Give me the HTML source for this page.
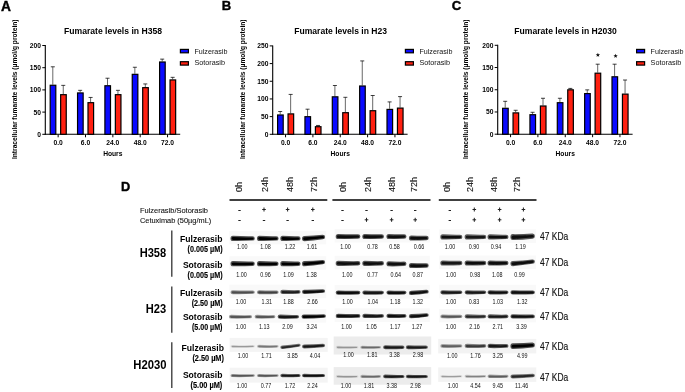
<!DOCTYPE html>
<html><head><meta charset="utf-8"><style>
html,body{margin:0;padding:0;background:#fff;}
body{width:685px;height:392px;overflow:hidden;font-family:"Liberation Sans", sans-serif;}
svg{display:block;will-change:transform;}
</style></head><body>
<svg width="685" height="392" viewBox="0 0 685 392" font-family='"Liberation Sans", sans-serif'>
<defs><filter id="bl" x="-10%" y="-100%" width="120%" height="300%"><feGaussianBlur stdDeviation="0.7"/></filter><filter id="bl2" x="-10%" y="-100%" width="120%" height="300%"><feGaussianBlur stdDeviation="0.5"/></filter></defs>
<rect width="685" height="392" fill="#fff"/>
<rect x="229.60" y="337.90" width="98.10" height="14.00" fill="#f4f4f4"/>
<rect x="229.60" y="367.70" width="98.10" height="14.90" fill="#f4f4f4"/>
<rect x="333.70" y="336.50" width="97.50" height="18.00" fill="#ececec"/>
<rect x="333.70" y="367.10" width="97.50" height="17.60" fill="#ececec"/>
<rect x="438.20" y="338.90" width="98.10" height="14.50" fill="#f3f3f3"/>
<rect x="438.20" y="367.40" width="98.10" height="14.50" fill="#f3f3f3"/>
<rect x="229.40" y="230.90" width="96.80" height="13.5" fill="#f9f9f9"/>
<rect x="334.60" y="229.00" width="95.20" height="13.5" fill="#f9f9f9"/>
<rect x="439.20" y="229.40" width="96.80" height="13.5" fill="#f9f9f9"/>
<rect x="229.40" y="256.20" width="96.80" height="13.5" fill="#f9f9f9"/>
<rect x="334.60" y="255.80" width="95.20" height="13.5" fill="#f9f9f9"/>
<rect x="439.20" y="255.50" width="96.80" height="13.5" fill="#f9f9f9"/>
<rect x="229.40" y="284.70" width="96.80" height="13.5" fill="#f9f9f9"/>
<rect x="334.60" y="285.10" width="95.20" height="13.5" fill="#f9f9f9"/>
<rect x="439.20" y="284.80" width="96.80" height="13.5" fill="#f9f9f9"/>
<rect x="229.40" y="309.20" width="96.80" height="13.5" fill="#f9f9f9"/>
<rect x="334.60" y="308.40" width="95.20" height="13.5" fill="#f9f9f9"/>
<rect x="439.20" y="308.90" width="96.80" height="13.5" fill="#f9f9f9"/>
<g filter="url(#bl)"><path d="M232.90,235.80 Q242.65,236.34 252.40,236.19 Q254.80,236.19 254.80,238.40 Q254.80,240.61 252.40,240.61 Q242.65,241.16 232.90,241.00 Q230.50,241.00 230.50,238.40 Q230.50,235.80 232.90,235.80Z" fill="#525252"/><path d="M259.40,235.80 Q267.80,236.34 276.20,236.19 Q278.60,236.19 278.60,238.40 Q278.60,240.61 276.20,240.61 Q267.80,241.16 259.40,241.00 Q257.00,241.00 257.00,238.40 Q257.00,235.80 259.40,235.80Z" fill="#525252"/><path d="M282.70,235.80 Q290.45,236.34 298.20,236.19 Q300.60,236.19 300.60,238.40 Q300.60,240.61 298.20,240.61 Q290.45,241.16 282.70,241.00 Q280.30,241.00 280.30,238.40 Q280.30,235.80 282.70,235.80Z" fill="#525252"/><path d="M304.40,235.99 Q313.55,235.74 322.70,234.78 Q325.10,234.78 325.10,237.00 Q325.10,239.22 322.70,239.22 Q313.55,240.56 304.40,241.21 Q302.00,241.21 302.00,238.60 Q302.00,235.99 304.40,235.99Z" fill="#505050"/><path d="M338.10,233.91 Q348.05,234.46 358.00,234.30 Q360.40,234.30 360.40,236.50 Q360.40,238.70 358.00,238.70 Q348.05,239.24 338.10,239.09 Q335.70,239.09 335.70,236.50 Q335.70,233.91 338.10,233.91Z" fill="#555555"/><path d="M364.70,233.91 Q373.15,234.46 381.60,234.30 Q384.00,234.30 384.00,236.50 Q384.00,238.70 381.60,238.70 Q373.15,239.24 364.70,239.09 Q362.30,239.09 362.30,236.50 Q362.30,233.91 364.70,233.91Z" fill="#555555"/><path d="M388.80,233.93 Q396.45,234.47 404.10,234.31 Q406.50,234.31 406.50,236.50 Q406.50,238.69 404.10,238.69 Q396.45,239.23 388.80,239.07 Q386.40,239.07 386.40,236.50 Q386.40,233.93 388.80,233.93Z" fill="#595959"/><path d="M411.30,235.41 Q418.80,235.96 426.30,235.80 Q428.70,235.80 428.70,238.00 Q428.70,240.20 426.30,240.20 Q418.80,240.74 411.30,240.59 Q408.90,240.59 408.90,238.00 Q408.90,235.41 411.30,235.41Z" fill="#555555"/><path d="M442.70,234.34 Q451.35,234.88 460.00,234.72 Q462.40,234.72 462.40,236.90 Q462.40,239.08 460.00,239.08 Q451.35,239.62 442.70,239.47 Q440.30,239.47 440.30,236.90 Q440.30,234.34 442.70,234.34Z" fill="#5b5b5b"/><path d="M467.00,234.35 Q475.45,234.89 483.90,234.73 Q486.30,234.73 486.30,236.90 Q486.30,239.07 483.90,239.07 Q475.45,239.61 467.00,239.45 Q464.60,239.45 464.60,236.90 Q464.60,234.35 467.00,234.35Z" fill="#5e5e5e"/><path d="M489.90,234.34 Q498.00,234.88 506.10,234.72 Q508.50,234.72 508.50,236.90 Q508.50,239.08 506.10,239.08 Q498.00,239.62 489.90,239.47 Q487.50,239.47 487.50,236.90 Q487.50,234.34 489.90,234.34Z" fill="#5b5b5b"/><path d="M512.80,234.12 Q522.65,234.20 532.50,233.57 Q534.90,233.57 534.90,236.10 Q534.90,238.63 532.50,238.63 Q522.65,239.70 512.80,240.08 Q510.40,240.08 510.40,237.10 Q510.40,234.12 512.80,234.12Z" fill="#555555"/><path d="M232.90,261.10 Q242.65,261.64 252.40,261.49 Q254.80,261.49 254.80,263.70 Q254.80,265.91 252.40,265.91 Q242.65,266.46 232.90,266.30 Q230.50,266.30 230.50,263.70 Q230.50,261.10 232.90,261.10Z" fill="#525252"/><path d="M259.40,261.09 Q267.80,261.64 276.20,261.48 Q278.60,261.48 278.60,263.70 Q278.60,265.92 276.20,265.92 Q267.80,266.46 259.40,266.31 Q257.00,266.31 257.00,263.70 Q257.00,261.09 259.40,261.09Z" fill="#505050"/><path d="M282.70,261.10 Q290.45,261.64 298.20,261.49 Q300.60,261.49 300.60,263.70 Q300.60,265.91 298.20,265.91 Q290.45,266.46 282.70,266.30 Q280.30,266.30 280.30,263.70 Q280.30,261.10 282.70,261.10Z" fill="#525252"/><path d="M304.40,261.09 Q313.55,260.84 322.70,259.88 Q325.10,259.88 325.10,262.10 Q325.10,264.32 322.70,264.32 Q313.55,265.66 304.40,266.31 Q302.00,266.31 302.00,263.70 Q302.00,261.09 304.40,261.09Z" fill="#505050"/><path d="M338.10,260.71 Q348.05,261.26 358.00,261.10 Q360.40,261.10 360.40,263.30 Q360.40,265.50 358.00,265.50 Q348.05,266.04 338.10,265.89 Q335.70,265.89 335.70,263.30 Q335.70,260.71 338.10,260.71Z" fill="#555555"/><path d="M364.70,260.71 Q373.15,261.26 381.60,261.10 Q384.00,261.10 384.00,263.30 Q384.00,265.50 381.60,265.50 Q373.15,266.04 364.70,265.89 Q362.30,265.89 362.30,263.30 Q362.30,260.71 364.70,260.71Z" fill="#555555"/><path d="M388.80,261.23 Q396.45,261.77 404.10,261.61 Q406.50,261.61 406.50,263.80 Q406.50,265.99 404.10,265.99 Q396.45,266.53 388.80,266.37 Q386.40,266.37 386.40,263.80 Q386.40,261.23 388.80,261.23Z" fill="#595959"/><path d="M411.30,262.91 Q418.80,263.46 426.30,263.30 Q428.70,263.30 428.70,265.50 Q428.70,267.70 426.30,267.70 Q418.80,268.24 411.30,268.09 Q408.90,268.09 408.90,265.50 Q408.90,262.91 411.30,262.91Z" fill="#555555"/><path d="M442.70,260.45 Q451.35,260.99 460.00,260.83 Q462.40,260.83 462.40,263.00 Q462.40,265.17 460.00,265.17 Q451.35,265.71 442.70,265.55 Q440.30,265.55 440.30,263.00 Q440.30,260.45 442.70,260.45Z" fill="#5e5e5e"/><path d="M467.00,260.44 Q475.45,260.98 483.90,260.82 Q486.30,260.82 486.30,263.00 Q486.30,265.18 483.90,265.18 Q475.45,265.72 467.00,265.56 Q464.60,265.56 464.60,263.00 Q464.60,260.44 467.00,260.44Z" fill="#5b5b5b"/><path d="M489.90,260.41 Q498.00,260.96 506.10,260.80 Q508.50,260.80 508.50,263.00 Q508.50,265.20 506.10,265.20 Q498.00,265.74 489.90,265.59 Q487.50,265.59 487.50,263.00 Q487.50,260.41 489.90,260.41Z" fill="#555555"/><path d="M512.80,261.04 Q522.65,260.58 532.50,259.42 Q534.90,259.42 534.90,261.60 Q534.90,263.78 532.50,263.78 Q522.65,265.32 512.80,266.17 Q510.40,266.17 510.40,263.60 Q510.40,261.04 512.80,261.04Z" fill="#5b5b5b"/><path d="M232.75,290.25 Q242.65,290.74 252.84,290.54 Q254.80,290.54 254.80,292.20 Q254.80,293.86 252.84,293.86 Q242.65,294.36 232.75,294.15 Q230.50,294.15 230.50,292.20 Q230.50,290.25 232.75,290.25Z" fill="#949494"/><path d="M259.29,290.21 Q267.80,290.71 276.61,290.51 Q278.60,290.51 278.60,292.20 Q278.60,293.89 276.61,293.89 Q267.80,294.39 259.29,294.19 Q257.00,294.19 257.00,292.20 Q257.00,290.21 259.29,290.21Z" fill="#898989"/><path d="M282.70,289.79 Q290.45,290.30 298.51,290.11 Q300.60,290.11 300.60,291.90 Q300.60,293.69 298.51,293.69 Q290.45,294.20 282.70,294.01 Q280.30,294.01 280.30,291.90 Q280.30,289.79 282.70,289.79Z" fill="#676767"/><path d="M304.40,289.63 Q313.55,289.74 322.95,289.15 Q325.10,289.15 325.10,291.00 Q325.10,292.85 322.95,292.85 Q313.55,293.76 304.40,293.97 Q302.00,293.97 302.00,291.80 Q302.00,289.63 304.40,289.63Z" fill="#555555"/><path d="M338.10,290.43 Q348.05,290.94 358.25,290.75 Q360.40,290.75 360.40,292.60 Q360.40,294.45 358.25,294.45 Q348.05,294.96 338.10,294.77 Q335.70,294.77 335.70,292.60 Q335.70,290.43 338.10,290.43Z" fill="#555555"/><path d="M364.70,290.46 Q373.15,290.97 381.88,290.78 Q384.00,290.78 384.00,292.60 Q384.00,294.42 381.88,294.42 Q373.15,294.93 364.70,294.74 Q362.30,294.74 362.30,292.60 Q362.30,290.46 364.70,290.46Z" fill="#5e5e5e"/><path d="M388.80,290.45 Q396.45,290.96 404.37,290.77 Q406.50,290.77 406.50,292.60 Q406.50,294.43 404.37,294.43 Q396.45,294.94 388.80,294.75 Q386.40,294.75 386.40,292.60 Q386.40,290.45 388.80,290.45Z" fill="#5b5b5b"/><path d="M411.30,290.73 Q418.80,290.64 426.55,289.85 Q428.70,289.85 428.70,291.70 Q428.70,293.55 426.55,293.55 Q418.80,294.66 411.30,295.07 Q408.90,295.07 408.90,292.90 Q408.90,290.73 411.30,290.73Z" fill="#555555"/><path d="M442.70,290.17 Q451.35,290.68 460.29,290.49 Q462.40,290.49 462.40,292.30 Q462.40,294.11 460.29,294.11 Q451.35,294.62 442.70,294.43 Q440.30,294.43 440.30,292.30 Q440.30,290.17 442.70,290.17Z" fill="#626262"/><path d="M467.00,290.17 Q475.45,290.68 484.19,290.49 Q486.30,290.49 486.30,292.30 Q486.30,294.11 484.19,294.11 Q475.45,294.62 467.00,294.43 Q464.60,294.43 464.60,292.30 Q464.60,290.17 467.00,290.17Z" fill="#626262"/><path d="M489.90,290.15 Q498.00,290.66 506.37,290.47 Q508.50,290.47 508.50,292.30 Q508.50,294.13 506.37,294.13 Q498.00,294.64 489.90,294.45 Q487.50,294.45 487.50,292.30 Q487.50,290.15 489.90,290.15Z" fill="#5b5b5b"/><path d="M512.80,290.13 Q522.65,290.64 532.75,290.45 Q534.90,290.45 534.90,292.30 Q534.90,294.15 532.75,294.15 Q522.65,294.66 512.80,294.47 Q510.40,294.47 510.40,292.30 Q510.40,290.13 512.80,290.13Z" fill="#555555"/><path d="M231.12,314.78 Q240.50,315.27 250.17,315.07 Q252.10,315.07 252.10,316.70 Q252.10,318.33 250.17,318.33 Q240.50,318.83 231.12,318.62 Q228.90,318.62 228.90,316.70 Q228.90,314.78 231.12,314.78Z" fill="#9d9d9d"/><path d="M256.82,314.78 Q265.00,315.27 273.47,315.07 Q275.40,315.07 275.40,316.70 Q275.40,318.33 273.47,318.33 Q265.00,318.83 256.82,318.62 Q254.60,318.62 254.60,316.70 Q254.60,314.78 256.82,314.78Z" fill="#9d9d9d"/><path d="M280.00,314.56 Q288.35,315.07 296.98,314.88 Q299.10,314.88 299.10,316.70 Q299.10,318.52 296.98,318.52 Q288.35,319.03 280.00,318.84 Q277.60,318.84 277.60,316.70 Q277.60,314.56 280.00,314.56Z" fill="#5e5e5e"/><path d="M303.90,314.41 Q313.70,314.62 323.74,314.14 Q325.90,314.14 325.90,316.00 Q325.90,317.86 323.74,317.86 Q313.70,318.68 303.90,318.79 Q301.50,318.79 301.50,316.60 Q301.50,314.41 303.90,314.41Z" fill="#505050"/><path d="M338.10,313.73 Q348.05,314.24 358.25,314.05 Q360.40,314.05 360.40,315.90 Q360.40,317.75 358.25,317.75 Q348.05,318.26 338.10,318.07 Q335.70,318.07 335.70,315.90 Q335.70,313.73 338.10,313.73Z" fill="#555555"/><path d="M364.70,313.76 Q373.15,314.27 381.88,314.08 Q384.00,314.08 384.00,315.90 Q384.00,317.72 381.88,317.72 Q373.15,318.23 364.70,318.04 Q362.30,318.04 362.30,315.90 Q362.30,313.76 364.70,313.76Z" fill="#5e5e5e"/><path d="M388.80,313.75 Q396.45,314.26 404.37,314.07 Q406.50,314.07 406.50,315.90 Q406.50,317.73 404.37,317.73 Q396.45,318.24 388.80,318.05 Q386.40,318.05 386.40,315.90 Q386.40,313.75 388.80,313.75Z" fill="#5b5b5b"/><path d="M411.30,314.03 Q418.80,313.94 426.55,313.15 Q428.70,313.15 428.70,315.00 Q428.70,316.85 426.55,316.85 Q418.80,317.96 411.30,318.37 Q408.90,318.37 408.90,316.20 Q408.90,314.03 411.30,314.03Z" fill="#555555"/><path d="M442.52,314.48 Q451.35,314.97 460.47,314.77 Q462.40,314.77 462.40,316.40 Q462.40,318.03 460.47,318.03 Q451.35,318.53 442.52,318.32 Q440.30,318.32 440.30,316.40 Q440.30,314.48 442.52,314.48Z" fill="#9d9d9d"/><path d="M466.98,314.32 Q475.45,314.83 484.23,314.63 Q486.30,314.63 486.30,316.40 Q486.30,318.17 484.23,318.17 Q475.45,318.67 466.98,318.48 Q464.60,318.48 464.60,316.40 Q464.60,314.32 466.98,314.32Z" fill="#707070"/><path d="M489.90,314.27 Q498.00,314.78 506.39,314.59 Q508.50,314.59 508.50,316.40 Q508.50,318.21 506.39,318.21 Q498.00,318.72 489.90,318.53 Q487.50,318.53 487.50,316.40 Q487.50,314.27 489.90,314.27Z" fill="#626262"/><path d="M512.80,314.24 Q522.65,314.75 532.76,314.56 Q534.90,314.56 534.90,316.40 Q534.90,318.24 532.76,318.24 Q522.65,318.75 512.80,318.56 Q510.40,318.56 510.40,316.40 Q510.40,314.24 512.80,314.24Z" fill="#595959"/><path d="M232.22,344.88 Q242.65,345.34 253.30,345.10 Q254.80,345.10 254.80,346.30 Q254.80,347.50 253.30,347.50 Q242.65,347.96 232.22,347.72 Q230.50,347.72 230.50,346.30 Q230.50,344.88 232.22,344.88Z" fill="#dbdbdb"/><path d="M258.81,344.79 Q267.80,345.25 277.01,345.01 Q278.60,345.01 278.60,346.30 Q278.60,347.59 277.01,347.59 Q267.80,348.05 258.81,347.81 Q257.00,347.81 257.00,346.30 Q257.00,344.79 258.81,344.79Z" fill="#bbbbbb"/><path d="M282.33,345.57 Q290.45,345.05 298.83,343.83 Q300.60,343.83 300.60,345.30 Q300.60,346.77 298.83,346.77 Q290.45,348.25 282.33,349.03 Q280.30,349.03 280.30,347.30 Q280.30,345.57 282.33,345.57Z" fill="#707070"/><path d="M304.33,344.47 Q313.55,344.47 323.07,343.77 Q325.10,343.77 325.10,345.50 Q325.10,347.23 323.07,347.23 Q313.55,348.23 304.33,348.53 Q302.00,348.53 302.00,346.50 Q302.00,344.47 304.33,344.47Z" fill="#646464"/><path d="M337.43,345.77 Q347.05,346.23 356.89,345.99 Q358.40,345.99 358.40,347.20 Q358.40,348.41 356.89,348.41 Q347.05,348.87 337.43,348.63 Q335.70,348.63 335.70,347.20 Q335.70,345.77 337.43,345.77Z" fill="#d8d8d8"/><path d="M362.15,345.65 Q370.70,346.12 379.48,345.88 Q381.10,345.88 381.10,347.20 Q381.10,348.52 379.48,348.52 Q370.70,348.98 362.15,348.75 Q360.30,348.75 360.30,347.20 Q360.30,345.65 362.15,345.65Z" fill="#afafaf"/><path d="M385.45,345.15 Q393.80,345.65 402.46,345.46 Q404.50,345.46 404.50,347.20 Q404.50,348.94 402.46,348.94 Q393.80,349.45 385.45,349.25 Q383.10,349.25 383.10,347.20 Q383.10,345.15 385.45,345.15Z" fill="#5e5e5e"/><path d="M408.05,345.25 Q416.85,345.74 425.94,345.54 Q427.90,345.54 427.90,347.20 Q427.90,348.86 425.94,348.86 Q416.85,349.36 408.05,349.15 Q405.80,349.15 405.80,347.20 Q405.80,345.25 408.05,345.25Z" fill="#626262"/><path d="M442.57,343.93 Q451.35,344.43 460.43,344.23 Q462.40,344.23 462.40,345.90 Q462.40,347.57 460.43,347.57 Q451.35,348.07 442.57,347.87 Q440.30,347.87 440.30,345.90 Q440.30,343.93 442.57,343.93Z" fill="#a6a6a6"/><path d="M467.00,343.80 Q475.45,344.31 484.21,344.11 Q486.30,344.11 486.30,345.90 Q486.30,347.69 484.21,347.69 Q475.45,348.19 467.00,348.00 Q464.60,348.00 464.60,345.90 Q464.60,343.80 467.00,343.80Z" fill="#828282"/><path d="M489.90,343.68 Q498.00,344.20 506.31,344.01 Q508.50,344.01 508.50,345.90 Q508.50,347.79 506.31,347.79 Q498.00,348.30 489.90,348.12 Q487.50,348.12 487.50,345.90 Q487.50,343.68 489.90,343.68Z" fill="#626262"/><path d="M512.80,343.16 Q522.65,343.23 532.50,342.60 Q534.90,342.60 534.90,345.10 Q534.90,347.60 532.50,347.60 Q522.65,348.67 512.80,349.04 Q510.40,349.04 510.40,346.10 Q510.40,343.16 512.80,343.16Z" fill="#4c4c4c"/><path d="M232.40,373.90 Q242.65,374.37 253.14,374.14 Q254.80,374.14 254.80,375.50 Q254.80,376.86 253.14,376.86 Q242.65,377.33 232.40,377.10 Q230.50,377.10 230.50,375.50 Q230.50,373.90 232.40,373.90Z" fill="#9d9d9d"/><path d="M258.90,373.90 Q267.80,374.37 276.94,374.14 Q278.60,374.14 278.60,375.50 Q278.60,376.86 276.94,376.86 Q267.80,377.33 258.90,377.10 Q257.00,377.10 257.00,375.50 Q257.00,373.90 258.90,373.90Z" fill="#9d9d9d"/><path d="M282.37,373.73 Q290.45,374.21 298.80,374.00 Q300.60,374.00 300.60,375.50 Q300.60,377.00 298.80,377.00 Q290.45,377.49 282.37,377.27 Q280.30,377.27 280.30,375.50 Q280.30,373.73 282.37,373.73Z" fill="#646464"/><path d="M304.10,373.70 Q313.55,374.19 323.27,373.97 Q325.10,373.97 325.10,375.50 Q325.10,377.03 323.27,377.03 Q313.55,377.51 304.10,377.30 Q302.00,377.30 302.00,375.50 Q302.00,373.70 304.10,373.70Z" fill="#5b5b5b"/><path d="M337.43,374.97 Q347.05,375.43 356.89,375.19 Q358.40,375.19 358.40,376.40 Q358.40,377.61 356.89,377.61 Q347.05,378.07 337.43,377.83 Q335.70,377.83 335.70,376.40 Q335.70,374.97 337.43,374.97Z" fill="#d8d8d8"/><path d="M362.15,374.85 Q370.70,375.32 379.48,375.08 Q381.10,375.08 381.10,376.40 Q381.10,377.72 379.48,377.72 Q370.70,378.18 362.15,377.95 Q360.30,377.95 360.30,376.40 Q360.30,374.85 362.15,374.85Z" fill="#afafaf"/><path d="M385.19,374.61 Q393.80,375.10 402.68,374.88 Q404.50,374.88 404.50,376.40 Q404.50,377.92 402.68,377.92 Q393.80,378.40 385.19,378.19 Q383.10,378.19 383.10,376.40 Q383.10,374.61 385.19,374.61Z" fill="#5e5e5e"/><path d="M407.87,374.63 Q416.85,375.11 426.09,374.89 Q427.90,374.89 427.90,376.40 Q427.90,377.91 426.09,377.91 Q416.85,378.39 407.87,378.17 Q405.80,378.17 405.80,376.40 Q405.80,374.63 407.87,374.63Z" fill="#626262"/><path d="M442.01,374.89 Q451.35,375.35 460.90,375.10 Q462.40,375.10 462.40,376.30 Q462.40,377.50 460.90,377.50 Q451.35,377.95 442.01,377.71 Q440.30,377.71 440.30,376.30 Q440.30,374.89 442.01,374.89Z" fill="#dfdfdf"/><path d="M466.38,374.82 Q475.45,375.28 484.74,375.04 Q486.30,375.04 486.30,376.30 Q486.30,377.56 484.74,377.56 Q475.45,378.02 466.38,377.78 Q464.60,377.78 464.60,376.30 Q464.60,374.82 466.38,374.82Z" fill="#c6c6c6"/><path d="M489.54,374.56 Q498.00,375.04 506.72,374.82 Q508.50,374.82 508.50,376.30 Q508.50,377.78 506.72,377.78 Q498.00,378.26 489.54,378.04 Q487.50,378.04 487.50,376.30 Q487.50,374.56 489.54,374.56Z" fill="#a2a2a2"/><path d="M512.78,374.42 Q522.65,374.43 532.83,373.73 Q534.90,373.73 534.90,375.50 Q534.90,377.27 532.83,377.27 Q522.65,378.27 512.78,378.58 Q510.40,378.58 510.40,376.50 Q510.40,374.42 512.78,374.42Z" fill="#707070"/></g>
<g filter="url(#bl2)"><path d="M233.33,237.12 Q242.65,237.60 252.23,237.38 Q253.70,237.38 253.70,238.55 Q253.70,239.72 252.23,239.72 Q242.65,240.20 233.33,239.98 Q231.60,239.98 231.60,238.55 Q231.60,237.12 233.33,237.12Z" fill="#060606"/><path d="M259.83,237.12 Q267.80,237.60 276.03,237.38 Q277.50,237.38 277.50,238.55 Q277.50,239.72 276.03,239.72 Q267.80,240.20 259.83,239.98 Q258.10,239.98 258.10,238.55 Q258.10,237.12 259.83,237.12Z" fill="#060606"/><path d="M283.13,237.12 Q290.45,237.60 298.03,237.38 Q299.50,237.38 299.50,238.55 Q299.50,239.72 298.03,239.72 Q290.45,240.20 283.13,239.98 Q281.40,239.98 281.40,238.55 Q281.40,237.12 283.13,237.12Z" fill="#060606"/><path d="M304.84,237.31 Q313.55,237.00 322.53,235.98 Q324.00,235.98 324.00,237.15 Q324.00,238.32 322.53,238.32 Q313.55,239.61 304.84,240.19 Q303.10,240.19 303.10,238.75 Q303.10,237.31 304.84,237.31Z" fill="#040404"/><path d="M338.52,235.23 Q348.05,235.71 357.84,235.49 Q359.30,235.49 359.30,236.65 Q359.30,237.81 357.84,237.81 Q348.05,238.29 338.52,238.07 Q336.80,238.07 336.80,236.65 Q336.80,235.23 338.52,235.23Z" fill="#0a0a0a"/><path d="M365.12,235.23 Q373.15,235.71 381.44,235.49 Q382.90,235.49 382.90,236.65 Q382.90,237.81 381.44,237.81 Q373.15,238.29 365.12,238.07 Q363.40,238.07 363.40,236.65 Q363.40,235.23 365.12,235.23Z" fill="#0a0a0a"/><path d="M389.21,235.24 Q396.45,235.71 403.94,235.49 Q405.40,235.49 405.40,236.65 Q405.40,237.81 403.94,237.81 Q396.45,238.29 389.21,238.06 Q387.50,238.06 387.50,236.65 Q387.50,235.24 389.21,235.24Z" fill="#0d0d0d"/><path d="M411.72,236.73 Q418.80,237.21 426.14,236.99 Q427.60,236.99 427.60,238.15 Q427.60,239.31 426.14,239.31 Q418.80,239.79 411.72,239.57 Q410.00,239.57 410.00,238.15 Q410.00,236.73 411.72,236.73Z" fill="#0a0a0a"/><path d="M443.11,235.64 Q451.35,236.12 459.85,235.90 Q461.30,235.90 461.30,237.05 Q461.30,238.20 459.85,238.20 Q451.35,238.68 443.11,238.46 Q441.40,238.46 441.40,237.05 Q441.40,235.64 443.11,235.64Z" fill="#0f0f0f"/><path d="M467.40,235.65 Q475.45,236.12 483.75,235.90 Q485.20,235.90 485.20,237.05 Q485.20,238.20 483.75,238.20 Q475.45,238.68 467.40,238.45 Q465.70,238.45 465.70,237.05 Q465.70,235.65 467.40,235.65Z" fill="#131313"/><path d="M490.31,235.64 Q498.00,236.12 505.95,235.90 Q507.40,235.90 507.40,237.05 Q507.40,238.20 505.95,238.20 Q498.00,238.68 490.31,238.46 Q488.60,238.46 488.60,237.05 Q488.60,235.64 490.31,235.64Z" fill="#0f0f0f"/><path d="M513.44,235.61 Q522.65,235.61 532.16,234.91 Q533.80,234.91 533.80,236.25 Q533.80,237.59 532.16,237.59 Q522.65,238.59 513.44,238.89 Q511.50,238.89 511.50,237.25 Q511.50,235.61 513.44,235.61Z" fill="#0a0a0a"/><path d="M233.33,262.42 Q242.65,262.90 252.23,262.68 Q253.70,262.68 253.70,263.85 Q253.70,265.02 252.23,265.02 Q242.65,265.50 233.33,265.28 Q231.60,265.28 231.60,263.85 Q231.60,262.42 233.33,262.42Z" fill="#060606"/><path d="M259.84,262.41 Q267.80,262.89 276.03,262.68 Q277.50,262.68 277.50,263.85 Q277.50,265.02 276.03,265.02 Q267.80,265.50 259.84,265.29 Q258.10,265.29 258.10,263.85 Q258.10,262.41 259.84,262.41Z" fill="#040404"/><path d="M283.13,262.42 Q290.45,262.90 298.03,262.68 Q299.50,262.68 299.50,263.85 Q299.50,265.02 298.03,265.02 Q290.45,265.50 283.13,265.28 Q281.40,265.28 281.40,263.85 Q281.40,262.42 283.13,262.42Z" fill="#060606"/><path d="M304.84,262.41 Q313.55,262.09 322.53,261.08 Q324.00,261.08 324.00,262.25 Q324.00,263.42 322.53,263.42 Q313.55,264.70 304.84,265.29 Q303.10,265.29 303.10,263.85 Q303.10,262.41 304.84,262.41Z" fill="#040404"/><path d="M338.52,262.03 Q348.05,262.51 357.84,262.29 Q359.30,262.29 359.30,263.45 Q359.30,264.61 357.84,264.61 Q348.05,265.09 338.52,264.87 Q336.80,264.87 336.80,263.45 Q336.80,262.03 338.52,262.03Z" fill="#0a0a0a"/><path d="M365.12,262.03 Q373.15,262.51 381.44,262.29 Q382.90,262.29 382.90,263.45 Q382.90,264.61 381.44,264.61 Q373.15,265.09 365.12,264.87 Q363.40,264.87 363.40,263.45 Q363.40,262.03 365.12,262.03Z" fill="#0a0a0a"/><path d="M389.21,262.54 Q396.45,263.01 403.94,262.79 Q405.40,262.79 405.40,263.95 Q405.40,265.11 403.94,265.11 Q396.45,265.59 389.21,265.36 Q387.50,265.36 387.50,263.95 Q387.50,262.54 389.21,262.54Z" fill="#0d0d0d"/><path d="M411.72,264.23 Q418.80,264.71 426.14,264.49 Q427.60,264.49 427.60,265.65 Q427.60,266.81 426.14,266.81 Q418.80,267.29 411.72,267.07 Q410.00,267.07 410.00,265.65 Q410.00,264.23 411.72,264.23Z" fill="#0a0a0a"/><path d="M443.10,261.75 Q451.35,262.23 459.85,262.00 Q461.30,262.00 461.30,263.15 Q461.30,264.30 459.85,264.30 Q451.35,264.77 443.10,264.55 Q441.40,264.55 441.40,263.15 Q441.40,261.75 443.10,261.75Z" fill="#131313"/><path d="M467.41,261.74 Q475.45,262.22 483.75,262.00 Q485.20,262.00 485.20,263.15 Q485.20,264.30 483.75,264.30 Q475.45,264.78 467.41,264.56 Q465.70,264.56 465.70,263.15 Q465.70,261.74 467.41,261.74Z" fill="#0f0f0f"/><path d="M490.32,261.73 Q498.00,262.21 505.94,261.99 Q507.40,261.99 507.40,263.15 Q507.40,264.31 505.94,264.31 Q498.00,264.79 490.32,264.57 Q488.60,264.57 488.60,263.15 Q488.60,261.73 490.32,261.73Z" fill="#0a0a0a"/><path d="M513.21,262.34 Q522.65,261.82 532.35,260.60 Q533.80,260.60 533.80,261.75 Q533.80,262.90 532.35,262.90 Q522.65,264.38 513.21,265.16 Q511.50,265.16 511.50,263.75 Q511.50,262.34 513.21,262.34Z" fill="#0f0f0f"/><path d="M232.97,291.28 Q242.65,291.72 252.52,291.47 Q253.70,291.47 253.70,292.35 Q253.70,293.23 252.52,293.23 Q242.65,293.68 232.97,293.42 Q231.60,293.42 231.60,292.35 Q231.60,291.28 232.97,291.28Z" fill="#4d4d4d"/><path d="M259.49,291.26 Q267.80,291.70 276.30,291.45 Q277.50,291.45 277.50,292.35 Q277.50,293.25 276.30,293.25 Q267.80,293.70 259.49,293.44 Q258.10,293.44 258.10,292.35 Q258.10,291.26 259.49,291.26Z" fill="#414141"/><path d="M282.86,290.89 Q290.45,291.34 298.25,291.10 Q299.50,291.10 299.50,292.05 Q299.50,293.00 298.25,293.00 Q290.45,293.46 282.86,293.21 Q281.40,293.21 281.40,292.05 Q281.40,290.89 282.86,290.89Z" fill="#1d1d1d"/><path d="M304.60,290.75 Q313.55,290.81 322.72,290.17 Q324.00,290.17 324.00,291.15 Q324.00,292.13 322.72,292.13 Q313.55,292.99 304.60,293.15 Q303.10,293.15 303.10,291.95 Q303.10,290.75 304.60,290.75Z" fill="#0a0a0a"/><path d="M338.30,291.55 Q348.05,292.01 358.02,291.77 Q359.30,291.77 359.30,292.75 Q359.30,293.73 358.02,293.73 Q348.05,294.19 338.30,293.95 Q336.80,293.95 336.80,292.75 Q336.80,291.55 338.30,291.55Z" fill="#0a0a0a"/><path d="M364.88,291.57 Q373.15,292.03 381.64,291.79 Q382.90,291.79 382.90,292.75 Q382.90,293.71 381.64,293.71 Q373.15,294.17 364.88,293.93 Q363.40,293.93 363.40,292.75 Q363.40,291.57 364.88,291.57Z" fill="#131313"/><path d="M388.99,291.56 Q396.45,292.02 404.13,291.78 Q405.40,291.78 405.40,292.75 Q405.40,293.72 404.13,293.72 Q396.45,294.18 388.99,293.94 Q387.50,293.94 387.50,292.75 Q387.50,291.56 388.99,291.56Z" fill="#0f0f0f"/><path d="M411.50,291.85 Q418.80,291.71 426.32,290.87 Q427.60,290.87 427.60,291.85 Q427.60,292.83 426.32,292.83 Q418.80,293.89 411.50,294.25 Q410.00,294.25 410.00,293.05 Q410.00,291.85 411.50,291.85Z" fill="#0a0a0a"/><path d="M442.87,291.28 Q451.35,291.74 460.04,291.49 Q461.30,291.49 461.30,292.45 Q461.30,293.41 460.04,293.41 Q451.35,293.86 442.87,293.62 Q441.40,293.62 441.40,292.45 Q441.40,291.28 442.87,291.28Z" fill="#171717"/><path d="M467.17,291.28 Q475.45,291.74 483.94,291.49 Q485.20,291.49 485.20,292.45 Q485.20,293.41 483.94,293.41 Q475.45,293.86 467.17,293.62 Q465.70,293.62 465.70,292.45 Q465.70,291.28 467.17,291.28Z" fill="#171717"/><path d="M490.09,291.26 Q498.00,291.72 506.13,291.48 Q507.40,291.48 507.40,292.45 Q507.40,293.42 506.13,293.42 Q498.00,293.88 490.09,293.64 Q488.60,293.64 488.60,292.45 Q488.60,291.26 490.09,291.26Z" fill="#0f0f0f"/><path d="M513.00,291.25 Q522.65,291.71 532.52,291.47 Q533.80,291.47 533.80,292.45 Q533.80,293.43 532.52,293.43 Q522.65,293.89 513.00,293.65 Q511.50,293.65 511.50,292.45 Q511.50,291.25 513.00,291.25Z" fill="#0a0a0a"/><path d="M231.36,315.79 Q240.50,316.24 249.84,315.99 Q251.00,315.99 251.00,316.85 Q251.00,317.71 249.84,317.71 Q240.50,318.16 231.36,317.91 Q230.00,317.91 230.00,316.85 Q230.00,315.79 231.36,315.79Z" fill="#565656"/><path d="M257.06,315.79 Q265.00,316.24 273.14,315.99 Q274.30,315.99 274.30,316.85 Q274.30,317.71 273.14,317.71 Q265.00,318.16 257.06,317.91 Q255.70,317.91 255.70,316.85 Q255.70,315.79 257.06,315.79Z" fill="#565656"/><path d="M280.18,315.67 Q288.35,316.13 296.74,315.89 Q298.00,315.89 298.00,316.85 Q298.00,317.81 296.74,317.81 Q288.35,318.27 280.18,318.03 Q278.70,318.03 278.70,316.85 Q278.70,315.67 280.18,315.67Z" fill="#131313"/><path d="M304.11,315.54 Q313.70,315.70 323.51,315.16 Q324.80,315.16 324.80,316.15 Q324.80,317.14 323.51,317.14 Q313.70,317.90 304.11,317.96 Q302.60,317.96 302.60,316.75 Q302.60,315.54 304.11,315.54Z" fill="#040404"/><path d="M338.30,314.85 Q348.05,315.31 358.02,315.07 Q359.30,315.07 359.30,316.05 Q359.30,317.03 358.02,317.03 Q348.05,317.49 338.30,317.25 Q336.80,317.25 336.80,316.05 Q336.80,314.85 338.30,314.85Z" fill="#0a0a0a"/><path d="M364.88,314.87 Q373.15,315.33 381.64,315.09 Q382.90,315.09 382.90,316.05 Q382.90,317.01 381.64,317.01 Q373.15,317.47 364.88,317.23 Q363.40,317.23 363.40,316.05 Q363.40,314.87 364.88,314.87Z" fill="#131313"/><path d="M388.99,314.86 Q396.45,315.32 404.13,315.08 Q405.40,315.08 405.40,316.05 Q405.40,317.02 404.13,317.02 Q396.45,317.48 388.99,317.24 Q387.50,317.24 387.50,316.05 Q387.50,314.86 388.99,314.86Z" fill="#0f0f0f"/><path d="M411.50,315.15 Q418.80,315.01 426.32,314.17 Q427.60,314.17 427.60,315.15 Q427.60,316.13 426.32,316.13 Q418.80,317.19 411.50,317.55 Q410.00,317.55 410.00,316.35 Q410.00,315.15 411.50,315.15Z" fill="#0a0a0a"/><path d="M442.76,315.49 Q451.35,315.94 460.14,315.69 Q461.30,315.69 461.30,316.55 Q461.30,317.41 460.14,317.41 Q451.35,317.86 442.76,317.61 Q441.40,317.61 441.40,316.55 Q441.40,315.49 442.76,315.49Z" fill="#565656"/><path d="M467.14,315.41 Q475.45,315.86 483.96,315.61 Q485.20,315.61 485.20,316.55 Q485.20,317.49 483.96,317.49 Q475.45,317.94 467.14,317.69 Q465.70,317.69 465.70,316.55 Q465.70,315.41 467.14,315.41Z" fill="#262626"/><path d="M490.07,315.38 Q498.00,315.84 506.14,315.59 Q507.40,315.59 507.40,316.55 Q507.40,317.51 506.14,317.51 Q498.00,317.96 490.07,317.72 Q488.60,317.72 488.60,316.55 Q488.60,315.38 490.07,315.38Z" fill="#171717"/><path d="M512.99,315.36 Q522.65,315.82 532.53,315.58 Q533.80,315.58 533.80,316.55 Q533.80,317.52 532.53,317.52 Q522.65,317.98 512.99,317.74 Q511.50,317.74 511.50,316.55 Q511.50,315.36 512.99,315.36Z" fill="#0d0d0d"/><path d="M232.68,345.67 Q242.65,346.09 252.76,345.81 Q253.70,345.81 253.70,346.45 Q253.70,347.09 252.76,347.09 Q242.65,347.51 232.68,347.23 Q231.60,347.23 231.60,346.45 Q231.60,345.67 232.68,345.67Z" fill="#999999"/><path d="M259.23,345.62 Q267.80,346.04 276.52,345.77 Q277.50,345.77 277.50,346.45 Q277.50,347.13 276.52,347.13 Q267.80,347.56 259.23,347.28 Q258.10,347.28 258.10,346.45 Q258.10,345.62 259.23,345.62Z" fill="#777777"/><path d="M282.65,346.50 Q290.45,345.93 298.42,344.67 Q299.50,344.67 299.50,345.45 Q299.50,346.23 298.42,346.23 Q290.45,347.67 282.65,348.40 Q281.40,348.40 281.40,347.45 Q281.40,346.50 282.65,346.50Z" fill="#262626"/><path d="M304.52,345.53 Q313.55,345.48 322.78,344.73 Q324.00,344.73 324.00,345.65 Q324.00,346.57 322.78,346.57 Q313.55,347.52 304.52,347.77 Q303.10,347.77 303.10,346.65 Q303.10,345.53 304.52,345.53Z" fill="#191919"/><path d="M337.89,346.56 Q347.05,346.99 356.36,346.71 Q357.30,346.71 357.30,347.35 Q357.30,347.99 356.36,347.99 Q347.05,348.41 337.89,348.14 Q336.80,348.14 336.80,347.35 Q336.80,346.56 337.89,346.56Z" fill="#959595"/><path d="M362.55,346.50 Q370.70,346.93 379.00,346.65 Q380.00,346.65 380.00,347.35 Q380.00,348.05 379.00,348.05 Q370.70,348.47 362.55,348.20 Q361.40,348.20 361.40,347.35 Q361.40,346.50 362.55,346.50Z" fill="#696969"/><path d="M385.63,346.22 Q393.80,346.67 402.18,346.43 Q403.40,346.43 403.40,347.35 Q403.40,348.27 402.18,348.27 Q393.80,348.73 385.63,348.48 Q384.20,348.48 384.20,347.35 Q384.20,346.22 385.63,346.22Z" fill="#131313"/><path d="M408.27,346.28 Q416.85,346.72 425.62,346.47 Q426.80,346.47 426.80,347.35 Q426.80,348.23 425.62,348.23 Q416.85,348.68 408.27,348.42 Q406.90,348.42 406.90,347.35 Q406.90,346.28 408.27,346.28Z" fill="#171717"/><path d="M442.78,344.97 Q451.35,345.42 460.11,345.16 Q461.30,345.16 461.30,346.05 Q461.30,346.94 460.11,346.94 Q451.35,347.38 442.78,347.13 Q441.40,347.13 441.40,346.05 Q441.40,344.97 442.78,344.97Z" fill="#606060"/><path d="M467.15,344.89 Q475.45,345.35 483.95,345.10 Q485.20,345.10 485.20,346.05 Q485.20,346.99 483.95,346.99 Q475.45,347.45 467.15,347.20 Q465.70,347.20 465.70,346.05 Q465.70,344.89 467.15,344.89Z" fill="#393939"/><path d="M490.12,344.83 Q498.00,345.29 506.10,345.05 Q507.40,345.05 507.40,346.05 Q507.40,347.05 506.10,347.05 Q498.00,347.51 490.12,347.27 Q488.60,347.27 488.60,346.05 Q488.60,344.83 490.12,344.83Z" fill="#171717"/><path d="M513.42,344.63 Q522.65,344.63 532.18,343.93 Q533.80,343.93 533.80,345.25 Q533.80,346.57 532.18,346.57 Q522.65,347.57 513.42,347.87 Q511.50,347.87 511.50,346.25 Q511.50,344.63 513.42,344.63Z" fill="#000000"/><path d="M232.78,374.77 Q242.65,375.20 252.68,374.93 Q253.70,374.93 253.70,375.65 Q253.70,376.37 252.68,376.37 Q242.65,376.80 232.78,376.53 Q231.60,376.53 231.60,375.65 Q231.60,374.77 232.78,374.77Z" fill="#565656"/><path d="M259.28,374.77 Q267.80,375.20 276.48,374.93 Q277.50,374.93 277.50,375.65 Q277.50,376.37 276.48,376.37 Q267.80,376.80 259.28,376.53 Q258.10,376.53 258.10,375.65 Q258.10,374.77 259.28,374.77Z" fill="#565656"/><path d="M282.67,374.68 Q290.45,375.12 298.40,374.85 Q299.50,374.85 299.50,375.65 Q299.50,376.45 298.40,376.45 Q290.45,376.88 282.67,376.62 Q281.40,376.62 281.40,375.65 Q281.40,374.68 282.67,374.68Z" fill="#191919"/><path d="M304.39,374.66 Q313.55,375.10 322.89,374.84 Q324.00,374.84 324.00,375.65 Q324.00,376.46 322.89,376.46 Q313.55,376.90 304.39,376.64 Q303.10,376.64 303.10,375.65 Q303.10,374.66 304.39,374.66Z" fill="#0f0f0f"/><path d="M337.89,375.76 Q347.05,376.19 356.36,375.91 Q357.30,375.91 357.30,376.55 Q357.30,377.19 356.36,377.19 Q347.05,377.61 337.89,377.34 Q336.80,377.34 336.80,376.55 Q336.80,375.76 337.89,375.76Z" fill="#959595"/><path d="M362.55,375.70 Q370.70,376.13 379.00,375.85 Q380.00,375.85 380.00,376.55 Q380.00,377.25 379.00,377.25 Q370.70,377.67 362.55,377.40 Q361.40,377.40 361.40,376.55 Q361.40,375.70 362.55,375.70Z" fill="#696969"/><path d="M385.48,375.57 Q393.80,376.01 402.30,375.75 Q403.40,375.75 403.40,376.55 Q403.40,377.35 402.30,377.35 Q393.80,377.79 385.48,377.53 Q384.20,377.53 384.20,376.55 Q384.20,375.57 385.48,375.57Z" fill="#131313"/><path d="M408.18,375.57 Q416.85,376.01 425.70,375.75 Q426.80,375.75 426.80,376.55 Q426.80,377.35 425.70,377.35 Q416.85,377.79 408.18,377.53 Q406.90,377.53 406.90,376.55 Q406.90,375.57 408.18,375.57Z" fill="#171717"/><path d="M442.47,375.68 Q451.35,376.10 460.37,375.82 Q461.30,375.82 461.30,376.45 Q461.30,377.08 460.37,377.08 Q451.35,377.50 442.47,377.22 Q441.40,377.22 441.40,376.45 Q441.40,375.68 442.47,375.68Z" fill="#9d9d9d"/><path d="M466.81,375.64 Q475.45,376.06 484.23,375.78 Q485.20,375.78 485.20,376.45 Q485.20,377.12 484.23,377.12 Q475.45,377.54 466.81,377.26 Q465.70,377.26 465.70,376.45 Q465.70,375.64 466.81,375.64Z" fill="#828282"/><path d="M489.86,375.49 Q498.00,375.93 506.32,375.67 Q507.40,375.67 507.40,376.45 Q507.40,377.23 506.32,377.23 Q498.00,377.67 489.86,377.41 Q488.60,377.41 488.60,376.45 Q488.60,375.49 489.86,375.49Z" fill="#5c5c5c"/><path d="M512.94,375.51 Q522.65,375.46 532.56,374.71 Q533.80,374.71 533.80,375.65 Q533.80,376.59 532.56,376.59 Q522.65,377.54 512.94,377.79 Q511.50,377.79 511.50,376.65 Q511.50,375.51 512.94,375.51Z" fill="#262626"/></g>
<text x="1.00" y="10.50" font-size="13.8" font-weight="bold" stroke="#000" stroke-width="0.4">A</text>
<text x="64.00" y="34.00" font-size="8.6" font-weight="bold" textLength="98.00" lengthAdjust="spacingAndGlyphs">Fumarate levels in H358</text>
<text x="17.40" y="159.00" font-size="6.7" font-weight="bold" textLength="139.50" lengthAdjust="spacingAndGlyphs" transform="rotate(-90 17.40 159.00)">Intracellular fumarate levels (µmol/g protein)</text>
<line x1="45.30" y1="45.00" x2="45.30" y2="134.80" stroke="#000" stroke-width="1.1"/>
<line x1="44.80" y1="134.30" x2="180.20" y2="134.30" stroke="#000" stroke-width="1.1"/>
<line x1="42.30" y1="134.30" x2="45.30" y2="134.30" stroke="#000" stroke-width="1.0"/>
<text x="41.00" y="136.70" font-size="6.7" font-weight="bold" text-anchor="end">0</text>
<line x1="42.30" y1="112.10" x2="45.30" y2="112.10" stroke="#000" stroke-width="1.0"/>
<text x="41.00" y="114.50" font-size="6.7" font-weight="bold" text-anchor="end">50</text>
<line x1="42.30" y1="89.90" x2="45.30" y2="89.90" stroke="#000" stroke-width="1.0"/>
<text x="41.00" y="92.30" font-size="6.7" font-weight="bold" text-anchor="end">100</text>
<line x1="42.30" y1="67.70" x2="45.30" y2="67.70" stroke="#000" stroke-width="1.0"/>
<text x="41.00" y="70.10" font-size="6.7" font-weight="bold" text-anchor="end">150</text>
<line x1="42.30" y1="45.50" x2="45.30" y2="45.50" stroke="#000" stroke-width="1.0"/>
<text x="41.00" y="47.90" font-size="6.7" font-weight="bold" text-anchor="end">200</text>
<line x1="58.15" y1="134.30" x2="58.15" y2="137.30" stroke="#000" stroke-width="1.0"/>
<text x="58.15" y="145.00" font-size="6.7" font-weight="bold" text-anchor="middle">0.0</text>
<line x1="52.80" y1="84.66" x2="52.80" y2="66.81" stroke="#000" stroke-width="0.6"/>
<line x1="50.80" y1="66.81" x2="54.80" y2="66.81" stroke="#000" stroke-width="0.75"/>
<rect x="50.20" y="85.26" width="5.60" height="49.04" fill="#0a0aff" stroke="#000" stroke-width="1.2"/>
<line x1="63.25" y1="94.07" x2="63.25" y2="85.37" stroke="#000" stroke-width="0.6"/>
<line x1="61.25" y1="85.37" x2="65.25" y2="85.37" stroke="#000" stroke-width="0.75"/>
<rect x="60.65" y="94.67" width="5.60" height="39.63" fill="#ff2010" stroke="#000" stroke-width="1.2"/>
<line x1="85.50" y1="134.30" x2="85.50" y2="137.30" stroke="#000" stroke-width="1.0"/>
<text x="85.50" y="145.00" font-size="6.7" font-weight="bold" text-anchor="middle">6.0</text>
<line x1="80.15" y1="92.34" x2="80.15" y2="90.34" stroke="#000" stroke-width="0.6"/>
<line x1="78.15" y1="90.34" x2="82.15" y2="90.34" stroke="#000" stroke-width="0.75"/>
<rect x="77.55" y="92.94" width="5.60" height="41.36" fill="#0a0aff" stroke="#000" stroke-width="1.2"/>
<line x1="90.60" y1="102.07" x2="90.60" y2="97.45" stroke="#000" stroke-width="0.6"/>
<line x1="88.60" y1="97.45" x2="92.60" y2="97.45" stroke="#000" stroke-width="0.75"/>
<rect x="88.00" y="102.67" width="5.60" height="31.63" fill="#ff2010" stroke="#000" stroke-width="1.2"/>
<line x1="112.85" y1="134.30" x2="112.85" y2="137.30" stroke="#000" stroke-width="1.0"/>
<text x="112.85" y="145.00" font-size="6.7" font-weight="bold" text-anchor="middle">24.0</text>
<line x1="107.50" y1="85.15" x2="107.50" y2="78.22" stroke="#000" stroke-width="0.6"/>
<line x1="105.50" y1="78.22" x2="109.50" y2="78.22" stroke="#000" stroke-width="0.75"/>
<rect x="104.90" y="85.75" width="5.60" height="48.55" fill="#0a0aff" stroke="#000" stroke-width="1.2"/>
<line x1="117.95" y1="94.07" x2="117.95" y2="90.34" stroke="#000" stroke-width="0.6"/>
<line x1="115.95" y1="90.34" x2="119.95" y2="90.34" stroke="#000" stroke-width="0.75"/>
<rect x="115.35" y="94.67" width="5.60" height="39.63" fill="#ff2010" stroke="#000" stroke-width="1.2"/>
<line x1="140.20" y1="134.30" x2="140.20" y2="137.30" stroke="#000" stroke-width="1.0"/>
<text x="140.20" y="145.00" font-size="6.7" font-weight="bold" text-anchor="middle">48.0</text>
<line x1="134.85" y1="73.74" x2="134.85" y2="67.26" stroke="#000" stroke-width="0.6"/>
<line x1="132.85" y1="67.26" x2="136.85" y2="67.26" stroke="#000" stroke-width="0.75"/>
<rect x="132.25" y="74.34" width="5.60" height="59.96" fill="#0a0aff" stroke="#000" stroke-width="1.2"/>
<line x1="145.30" y1="87.06" x2="145.30" y2="83.95" stroke="#000" stroke-width="0.6"/>
<line x1="143.30" y1="83.95" x2="147.30" y2="83.95" stroke="#000" stroke-width="0.75"/>
<rect x="142.70" y="87.66" width="5.60" height="46.64" fill="#ff2010" stroke="#000" stroke-width="1.2"/>
<line x1="167.55" y1="134.30" x2="167.55" y2="137.30" stroke="#000" stroke-width="1.0"/>
<text x="167.55" y="145.00" font-size="6.7" font-weight="bold" text-anchor="middle">72.0</text>
<line x1="162.20" y1="61.40" x2="162.20" y2="59.13" stroke="#000" stroke-width="0.6"/>
<line x1="160.20" y1="59.13" x2="164.20" y2="59.13" stroke="#000" stroke-width="0.75"/>
<rect x="159.60" y="62.00" width="5.60" height="72.30" fill="#0a0aff" stroke="#000" stroke-width="1.2"/>
<line x1="172.65" y1="79.33" x2="172.65" y2="77.33" stroke="#000" stroke-width="0.6"/>
<line x1="170.65" y1="77.33" x2="174.65" y2="77.33" stroke="#000" stroke-width="0.75"/>
<rect x="170.05" y="79.93" width="5.60" height="54.37" fill="#ff2010" stroke="#000" stroke-width="1.2"/>
<text x="112.80" y="156.20" font-size="6.7" font-weight="bold" text-anchor="middle">Hours</text>
<rect x="180.40" y="49.40" width="8.00" height="3.40" fill="#0a0aff" stroke="#000" stroke-width="1.2"/>
<rect x="180.40" y="61.70" width="8.00" height="3.40" fill="#ff2010" stroke="#000" stroke-width="1.2"/>
<text x="194.40" y="53.50" font-size="7.9" textLength="33.00" lengthAdjust="spacingAndGlyphs" fill="#111">Fulzerasib</text>
<text x="194.40" y="65.40" font-size="7.9" textLength="30.60" lengthAdjust="spacingAndGlyphs" fill="#111">Sotorasib</text>
<text x="221.70" y="10.40" font-size="13.1" font-weight="bold" stroke="#000" stroke-width="0.4">B</text>
<text x="294.30" y="34.00" font-size="8.6" font-weight="bold" textLength="92.70" lengthAdjust="spacingAndGlyphs">Fumarate levels in H23</text>
<text x="244.50" y="159.00" font-size="6.7" font-weight="bold" textLength="139.50" lengthAdjust="spacingAndGlyphs" transform="rotate(-90 244.50 159.00)">Intracellular fumarate levels (µmol/g protein)</text>
<line x1="272.70" y1="45.40" x2="272.70" y2="134.80" stroke="#000" stroke-width="1.1"/>
<line x1="272.20" y1="134.30" x2="407.60" y2="134.30" stroke="#000" stroke-width="1.1"/>
<line x1="269.70" y1="134.30" x2="272.70" y2="134.30" stroke="#000" stroke-width="1.0"/>
<text x="268.40" y="136.70" font-size="6.7" font-weight="bold" text-anchor="end">0</text>
<line x1="269.70" y1="116.62" x2="272.70" y2="116.62" stroke="#000" stroke-width="1.0"/>
<text x="268.40" y="119.02" font-size="6.7" font-weight="bold" text-anchor="end">50</text>
<line x1="269.70" y1="98.94" x2="272.70" y2="98.94" stroke="#000" stroke-width="1.0"/>
<text x="268.40" y="101.34" font-size="6.7" font-weight="bold" text-anchor="end">100</text>
<line x1="269.70" y1="81.26" x2="272.70" y2="81.26" stroke="#000" stroke-width="1.0"/>
<text x="268.40" y="83.66" font-size="6.7" font-weight="bold" text-anchor="end">150</text>
<line x1="269.70" y1="63.58" x2="272.70" y2="63.58" stroke="#000" stroke-width="1.0"/>
<text x="268.40" y="65.98" font-size="6.7" font-weight="bold" text-anchor="end">200</text>
<line x1="269.70" y1="45.90" x2="272.70" y2="45.90" stroke="#000" stroke-width="1.0"/>
<text x="268.40" y="48.30" font-size="6.7" font-weight="bold" text-anchor="end">250</text>
<line x1="285.55" y1="134.30" x2="285.55" y2="137.30" stroke="#000" stroke-width="1.0"/>
<text x="285.55" y="145.00" font-size="6.7" font-weight="bold" text-anchor="middle">0.0</text>
<line x1="280.20" y1="114.39" x2="280.20" y2="111.49" stroke="#000" stroke-width="0.6"/>
<line x1="278.20" y1="111.49" x2="282.20" y2="111.49" stroke="#000" stroke-width="0.75"/>
<rect x="277.60" y="114.99" width="5.60" height="19.31" fill="#0a0aff" stroke="#000" stroke-width="1.2"/>
<line x1="290.65" y1="113.30" x2="290.65" y2="94.41" stroke="#000" stroke-width="0.6"/>
<line x1="288.65" y1="94.41" x2="292.65" y2="94.41" stroke="#000" stroke-width="0.75"/>
<rect x="288.05" y="113.90" width="5.60" height="20.40" fill="#ff2010" stroke="#000" stroke-width="1.2"/>
<line x1="312.90" y1="134.30" x2="312.90" y2="137.30" stroke="#000" stroke-width="1.0"/>
<text x="312.90" y="145.00" font-size="6.7" font-weight="bold" text-anchor="middle">6.0</text>
<line x1="307.55" y1="116.09" x2="307.55" y2="109.19" stroke="#000" stroke-width="0.6"/>
<line x1="305.55" y1="109.19" x2="309.55" y2="109.19" stroke="#000" stroke-width="0.75"/>
<rect x="304.95" y="116.69" width="5.60" height="17.61" fill="#0a0aff" stroke="#000" stroke-width="1.2"/>
<line x1="318.00" y1="126.10" x2="318.00" y2="125.46" stroke="#000" stroke-width="0.6"/>
<line x1="316.00" y1="125.46" x2="320.00" y2="125.46" stroke="#000" stroke-width="0.75"/>
<rect x="315.40" y="126.70" width="5.60" height="7.60" fill="#ff2010" stroke="#000" stroke-width="1.2"/>
<line x1="340.25" y1="134.30" x2="340.25" y2="137.30" stroke="#000" stroke-width="1.0"/>
<text x="340.25" y="145.00" font-size="6.7" font-weight="bold" text-anchor="middle">24.0</text>
<line x1="334.90" y1="96.22" x2="334.90" y2="85.50" stroke="#000" stroke-width="0.6"/>
<line x1="332.90" y1="85.50" x2="336.90" y2="85.50" stroke="#000" stroke-width="0.75"/>
<rect x="332.30" y="96.82" width="5.60" height="37.48" fill="#0a0aff" stroke="#000" stroke-width="1.2"/>
<line x1="345.35" y1="112.09" x2="345.35" y2="97.31" stroke="#000" stroke-width="0.6"/>
<line x1="343.35" y1="97.31" x2="347.35" y2="97.31" stroke="#000" stroke-width="0.75"/>
<rect x="342.75" y="112.69" width="5.60" height="21.61" fill="#ff2010" stroke="#000" stroke-width="1.2"/>
<line x1="367.60" y1="134.30" x2="367.60" y2="137.30" stroke="#000" stroke-width="1.0"/>
<text x="367.60" y="145.00" font-size="6.7" font-weight="bold" text-anchor="middle">48.0</text>
<line x1="362.25" y1="85.40" x2="362.25" y2="60.93" stroke="#000" stroke-width="0.6"/>
<line x1="360.25" y1="60.93" x2="364.25" y2="60.93" stroke="#000" stroke-width="0.75"/>
<rect x="359.65" y="86.00" width="5.60" height="48.30" fill="#0a0aff" stroke="#000" stroke-width="1.2"/>
<line x1="372.70" y1="110.11" x2="372.70" y2="95.51" stroke="#000" stroke-width="0.6"/>
<line x1="370.70" y1="95.51" x2="374.70" y2="95.51" stroke="#000" stroke-width="0.75"/>
<rect x="370.10" y="110.71" width="5.60" height="23.59" fill="#ff2010" stroke="#000" stroke-width="1.2"/>
<line x1="394.95" y1="134.30" x2="394.95" y2="137.30" stroke="#000" stroke-width="1.0"/>
<text x="394.95" y="145.00" font-size="6.7" font-weight="bold" text-anchor="middle">72.0</text>
<line x1="389.60" y1="108.81" x2="389.60" y2="101.91" stroke="#000" stroke-width="0.6"/>
<line x1="387.60" y1="101.91" x2="391.60" y2="101.91" stroke="#000" stroke-width="0.75"/>
<rect x="387.00" y="109.41" width="5.60" height="24.89" fill="#0a0aff" stroke="#000" stroke-width="1.2"/>
<line x1="400.05" y1="107.50" x2="400.05" y2="96.61" stroke="#000" stroke-width="0.6"/>
<line x1="398.05" y1="96.61" x2="402.05" y2="96.61" stroke="#000" stroke-width="0.75"/>
<rect x="397.45" y="108.10" width="5.60" height="26.20" fill="#ff2010" stroke="#000" stroke-width="1.2"/>
<text x="340.20" y="156.20" font-size="6.7" font-weight="bold" text-anchor="middle">Hours</text>
<rect x="405.40" y="49.40" width="8.00" height="3.40" fill="#0a0aff" stroke="#000" stroke-width="1.2"/>
<rect x="405.40" y="61.70" width="8.00" height="3.40" fill="#ff2010" stroke="#000" stroke-width="1.2"/>
<text x="419.40" y="53.50" font-size="7.9" textLength="33.00" lengthAdjust="spacingAndGlyphs" fill="#111">Fulzerasib</text>
<text x="419.40" y="65.40" font-size="7.9" textLength="30.60" lengthAdjust="spacingAndGlyphs" fill="#111">Sotorasib</text>
<text x="451.80" y="10.40" font-size="13.1" font-weight="bold" stroke="#000" stroke-width="0.4">C</text>
<text x="514.30" y="34.00" font-size="8.6" font-weight="bold" textLength="102.60" lengthAdjust="spacingAndGlyphs">Fumarate levels in H2030</text>
<text x="468.40" y="159.00" font-size="6.7" font-weight="bold" textLength="139.50" lengthAdjust="spacingAndGlyphs" transform="rotate(-90 468.40 159.00)">Intracellular fumarate levels (µmol/g protein)</text>
<line x1="497.70" y1="44.80" x2="497.70" y2="134.70" stroke="#000" stroke-width="1.1"/>
<line x1="497.20" y1="134.20" x2="632.60" y2="134.20" stroke="#000" stroke-width="1.1"/>
<line x1="494.70" y1="134.20" x2="497.70" y2="134.20" stroke="#000" stroke-width="1.0"/>
<text x="493.40" y="136.60" font-size="6.7" font-weight="bold" text-anchor="end">0</text>
<line x1="494.70" y1="111.97" x2="497.70" y2="111.97" stroke="#000" stroke-width="1.0"/>
<text x="493.40" y="114.38" font-size="6.7" font-weight="bold" text-anchor="end">50</text>
<line x1="494.70" y1="89.75" x2="497.70" y2="89.75" stroke="#000" stroke-width="1.0"/>
<text x="493.40" y="92.15" font-size="6.7" font-weight="bold" text-anchor="end">100</text>
<line x1="494.70" y1="67.52" x2="497.70" y2="67.52" stroke="#000" stroke-width="1.0"/>
<text x="493.40" y="69.92" font-size="6.7" font-weight="bold" text-anchor="end">150</text>
<line x1="494.70" y1="45.30" x2="497.70" y2="45.30" stroke="#000" stroke-width="1.0"/>
<text x="493.40" y="47.70" font-size="6.7" font-weight="bold" text-anchor="end">200</text>
<line x1="510.55" y1="134.20" x2="510.55" y2="137.20" stroke="#000" stroke-width="1.0"/>
<text x="510.55" y="145.00" font-size="6.7" font-weight="bold" text-anchor="middle">0.0</text>
<line x1="505.20" y1="107.71" x2="505.20" y2="101.31" stroke="#000" stroke-width="0.6"/>
<line x1="503.20" y1="101.31" x2="507.20" y2="101.31" stroke="#000" stroke-width="0.75"/>
<rect x="502.60" y="108.31" width="5.60" height="25.89" fill="#0a0aff" stroke="#000" stroke-width="1.2"/>
<line x1="515.65" y1="112.29" x2="515.65" y2="110.29" stroke="#000" stroke-width="0.6"/>
<line x1="513.65" y1="110.29" x2="517.65" y2="110.29" stroke="#000" stroke-width="0.75"/>
<rect x="513.05" y="112.89" width="5.60" height="21.31" fill="#ff2010" stroke="#000" stroke-width="1.2"/>
<line x1="537.90" y1="134.20" x2="537.90" y2="137.20" stroke="#000" stroke-width="1.0"/>
<text x="537.90" y="145.00" font-size="6.7" font-weight="bold" text-anchor="middle">6.0</text>
<line x1="532.55" y1="114.11" x2="532.55" y2="112.29" stroke="#000" stroke-width="0.6"/>
<line x1="530.55" y1="112.29" x2="534.55" y2="112.29" stroke="#000" stroke-width="0.75"/>
<rect x="529.95" y="114.71" width="5.60" height="19.49" fill="#0a0aff" stroke="#000" stroke-width="1.2"/>
<line x1="543.00" y1="105.40" x2="543.00" y2="98.28" stroke="#000" stroke-width="0.6"/>
<line x1="541.00" y1="98.28" x2="545.00" y2="98.28" stroke="#000" stroke-width="0.75"/>
<rect x="540.40" y="106.00" width="5.60" height="28.20" fill="#ff2010" stroke="#000" stroke-width="1.2"/>
<line x1="565.25" y1="134.20" x2="565.25" y2="137.20" stroke="#000" stroke-width="1.0"/>
<text x="565.25" y="145.00" font-size="6.7" font-weight="bold" text-anchor="middle">24.0</text>
<line x1="559.90" y1="102.11" x2="559.90" y2="98.28" stroke="#000" stroke-width="0.6"/>
<line x1="557.90" y1="98.28" x2="561.90" y2="98.28" stroke="#000" stroke-width="0.75"/>
<rect x="557.30" y="102.71" width="5.60" height="31.49" fill="#0a0aff" stroke="#000" stroke-width="1.2"/>
<line x1="570.35" y1="89.22" x2="570.35" y2="88.42" stroke="#000" stroke-width="0.6"/>
<line x1="568.35" y1="88.42" x2="572.35" y2="88.42" stroke="#000" stroke-width="0.75"/>
<rect x="567.75" y="89.82" width="5.60" height="44.38" fill="#ff2010" stroke="#000" stroke-width="1.2"/>
<line x1="592.60" y1="134.20" x2="592.60" y2="137.20" stroke="#000" stroke-width="1.0"/>
<text x="592.60" y="145.00" font-size="6.7" font-weight="bold" text-anchor="middle">48.0</text>
<line x1="587.25" y1="92.99" x2="587.25" y2="89.88" stroke="#000" stroke-width="0.6"/>
<line x1="585.25" y1="89.88" x2="589.25" y2="89.88" stroke="#000" stroke-width="0.75"/>
<rect x="584.65" y="93.59" width="5.60" height="40.61" fill="#0a0aff" stroke="#000" stroke-width="1.2"/>
<line x1="597.70" y1="72.59" x2="597.70" y2="64.19" stroke="#000" stroke-width="0.6"/>
<line x1="595.70" y1="64.19" x2="599.70" y2="64.19" stroke="#000" stroke-width="0.75"/>
<rect x="595.10" y="73.19" width="5.60" height="61.01" fill="#ff2010" stroke="#000" stroke-width="1.2"/>
<line x1="619.95" y1="134.20" x2="619.95" y2="137.20" stroke="#000" stroke-width="1.0"/>
<text x="619.95" y="145.00" font-size="6.7" font-weight="bold" text-anchor="middle">72.0</text>
<line x1="614.60" y1="76.19" x2="614.60" y2="64.19" stroke="#000" stroke-width="0.6"/>
<line x1="612.60" y1="64.19" x2="616.60" y2="64.19" stroke="#000" stroke-width="0.75"/>
<rect x="612.00" y="76.79" width="5.60" height="57.41" fill="#0a0aff" stroke="#000" stroke-width="1.2"/>
<line x1="625.05" y1="93.53" x2="625.05" y2="80.02" stroke="#000" stroke-width="0.6"/>
<line x1="623.05" y1="80.02" x2="627.05" y2="80.02" stroke="#000" stroke-width="0.75"/>
<rect x="622.45" y="94.13" width="5.60" height="40.07" fill="#ff2010" stroke="#000" stroke-width="1.2"/>
<polygon points="597.90,52.70 598.49,54.19 600.09,54.29 598.85,55.31 599.25,56.86 597.90,56.00 596.55,56.86 596.95,55.31 595.71,54.29 597.31,54.19" fill="#111"/>
<polygon points="615.60,53.70 616.19,55.19 617.79,55.29 616.55,56.31 616.95,57.86 615.60,57.00 614.25,57.86 614.65,56.31 613.41,55.29 615.01,55.19" fill="#111"/>
<text x="565.20" y="156.20" font-size="6.7" font-weight="bold" text-anchor="middle">Hours</text>
<rect x="636.60" y="49.40" width="8.00" height="3.40" fill="#0a0aff" stroke="#000" stroke-width="1.2"/>
<rect x="636.60" y="61.70" width="8.00" height="3.40" fill="#ff2010" stroke="#000" stroke-width="1.2"/>
<text x="650.60" y="53.50" font-size="7.9" textLength="33.00" lengthAdjust="spacingAndGlyphs" fill="#111">Fulzerasib</text>
<text x="650.60" y="65.40" font-size="7.9" textLength="30.60" lengthAdjust="spacingAndGlyphs" fill="#111">Sotorasib</text>
<text x="121.10" y="190.50" font-size="12.8" font-weight="bold" stroke="#000" stroke-width="0.4">D</text>
<line x1="229.50" y1="200.00" x2="327.30" y2="200.00" stroke="#000" stroke-width="1.3"/>
<line x1="332.40" y1="200.00" x2="430.50" y2="200.00" stroke="#000" stroke-width="1.3"/>
<line x1="438.80" y1="200.00" x2="536.50" y2="200.00" stroke="#000" stroke-width="1.3"/>
<text x="242.10" y="192.00" font-size="8.6" textLength="10.03" lengthAdjust="spacingAndGlyphs" transform="rotate(-90 242.10 192.00)" fill="#111" stroke="#111" stroke-width="0.1">0h</text>
<rect x="238.30" y="210.00" width="2.40" height="1.00" fill="#222"/>
<rect x="238.30" y="220.00" width="2.40" height="1.00" fill="#222"/>
<text x="267.80" y="192.00" font-size="8.6" textLength="15.04" lengthAdjust="spacingAndGlyphs" transform="rotate(-90 267.80 192.00)" fill="#111" stroke="#111" stroke-width="0.1">24h</text>
<rect x="262.20" y="209.00" width="3.60" height="1.00" fill="#222"/>
<rect x="263.50" y="207.50" width="1.00" height="4.00" fill="#222"/>
<rect x="262.80" y="220.00" width="2.40" height="1.00" fill="#222"/>
<text x="293.00" y="192.00" font-size="8.6" textLength="15.04" lengthAdjust="spacingAndGlyphs" transform="rotate(-90 293.00 192.00)" fill="#111" stroke="#111" stroke-width="0.1">48h</text>
<rect x="285.80" y="209.00" width="3.60" height="1.00" fill="#222"/>
<rect x="287.10" y="207.50" width="1.00" height="4.00" fill="#222"/>
<rect x="286.40" y="220.00" width="2.40" height="1.00" fill="#222"/>
<text x="317.10" y="192.00" font-size="8.6" textLength="15.04" lengthAdjust="spacingAndGlyphs" transform="rotate(-90 317.10 192.00)" fill="#111" stroke="#111" stroke-width="0.1">72h</text>
<rect x="311.00" y="209.00" width="3.60" height="1.00" fill="#222"/>
<rect x="312.30" y="207.50" width="1.00" height="4.00" fill="#222"/>
<rect x="311.60" y="220.00" width="2.40" height="1.00" fill="#222"/>
<text x="346.00" y="192.00" font-size="8.6" textLength="10.03" lengthAdjust="spacingAndGlyphs" transform="rotate(-90 346.00 192.00)" fill="#111" stroke="#111" stroke-width="0.1">0h</text>
<rect x="341.30" y="210.00" width="2.40" height="1.00" fill="#222"/>
<rect x="341.30" y="220.00" width="2.40" height="1.00" fill="#222"/>
<text x="370.90" y="192.00" font-size="8.6" textLength="15.04" lengthAdjust="spacingAndGlyphs" transform="rotate(-90 370.90 192.00)" fill="#111" stroke="#111" stroke-width="0.1">24h</text>
<rect x="365.30" y="210.00" width="2.40" height="1.00" fill="#222"/>
<rect x="364.70" y="219.30" width="3.60" height="1.00" fill="#222"/>
<rect x="366.00" y="217.80" width="1.00" height="4.00" fill="#222"/>
<text x="394.60" y="192.00" font-size="8.6" textLength="15.04" lengthAdjust="spacingAndGlyphs" transform="rotate(-90 394.60 192.00)" fill="#111" stroke="#111" stroke-width="0.1">48h</text>
<rect x="390.40" y="210.00" width="2.40" height="1.00" fill="#222"/>
<rect x="389.80" y="219.30" width="3.60" height="1.00" fill="#222"/>
<rect x="391.10" y="217.80" width="1.00" height="4.00" fill="#222"/>
<text x="417.30" y="192.00" font-size="8.6" textLength="15.04" lengthAdjust="spacingAndGlyphs" transform="rotate(-90 417.30 192.00)" fill="#111" stroke="#111" stroke-width="0.1">72h</text>
<rect x="414.00" y="210.00" width="2.40" height="1.00" fill="#222"/>
<rect x="413.40" y="219.30" width="3.60" height="1.00" fill="#222"/>
<rect x="414.70" y="217.80" width="1.00" height="4.00" fill="#222"/>
<text x="449.90" y="192.00" font-size="8.6" textLength="10.03" lengthAdjust="spacingAndGlyphs" transform="rotate(-90 449.90 192.00)" fill="#111" stroke="#111" stroke-width="0.1">0h</text>
<rect x="448.60" y="210.00" width="2.40" height="1.00" fill="#222"/>
<rect x="448.60" y="220.00" width="2.40" height="1.00" fill="#222"/>
<text x="473.00" y="192.00" font-size="8.6" textLength="15.04" lengthAdjust="spacingAndGlyphs" transform="rotate(-90 473.00 192.00)" fill="#111" stroke="#111" stroke-width="0.1">24h</text>
<rect x="472.50" y="209.00" width="3.60" height="1.00" fill="#222"/>
<rect x="473.80" y="207.50" width="1.00" height="4.00" fill="#222"/>
<rect x="472.50" y="219.30" width="3.60" height="1.00" fill="#222"/>
<rect x="473.80" y="217.80" width="1.00" height="4.00" fill="#222"/>
<text x="496.90" y="192.00" font-size="8.6" textLength="15.04" lengthAdjust="spacingAndGlyphs" transform="rotate(-90 496.90 192.00)" fill="#111" stroke="#111" stroke-width="0.1">48h</text>
<rect x="497.80" y="209.00" width="3.60" height="1.00" fill="#222"/>
<rect x="499.10" y="207.50" width="1.00" height="4.00" fill="#222"/>
<rect x="497.80" y="219.30" width="3.60" height="1.00" fill="#222"/>
<rect x="499.10" y="217.80" width="1.00" height="4.00" fill="#222"/>
<text x="520.00" y="192.00" font-size="8.6" textLength="15.04" lengthAdjust="spacingAndGlyphs" transform="rotate(-90 520.00 192.00)" fill="#111" stroke="#111" stroke-width="0.1">72h</text>
<rect x="521.60" y="209.00" width="3.60" height="1.00" fill="#222"/>
<rect x="522.90" y="207.50" width="1.00" height="4.00" fill="#222"/>
<rect x="521.60" y="219.30" width="3.60" height="1.00" fill="#222"/>
<rect x="522.90" y="217.80" width="1.00" height="4.00" fill="#222"/>
<text x="140.00" y="212.80" font-size="7.9" textLength="68.00" lengthAdjust="spacingAndGlyphs" fill="#111" stroke="#111" stroke-width="0.1">Fulzerasib/Sotorasib</text>
<text x="140.00" y="222.80" font-size="7.9" textLength="71.20" lengthAdjust="spacingAndGlyphs" fill="#111" stroke="#111" stroke-width="0.1">Cetuximab (50µg/mL)</text>
<text x="166.20" y="257.10" font-size="12.5" font-weight="bold" text-anchor="end" textLength="26.50" lengthAdjust="spacingAndGlyphs">H358</text>
<text x="166.20" y="312.90" font-size="12.5" font-weight="bold" text-anchor="end" textLength="20.40" lengthAdjust="spacingAndGlyphs">H23</text>
<text x="166.50" y="369.30" font-size="12.5" font-weight="bold" text-anchor="end" textLength="33.20" lengthAdjust="spacingAndGlyphs">H2030</text>
<line x1="171.80" y1="230.60" x2="171.80" y2="276.70" stroke="#333" stroke-width="1.3"/>
<line x1="171.80" y1="286.40" x2="171.80" y2="332.70" stroke="#333" stroke-width="1.3"/>
<line x1="171.80" y1="342.20" x2="171.80" y2="388.00" stroke="#333" stroke-width="1.3"/>
<text x="222.50" y="241.90" font-size="9.4" font-weight="bold" text-anchor="end" textLength="42.50" lengthAdjust="spacingAndGlyphs">Fulzerasib</text>
<text x="222.60" y="252.30" font-size="8.5" font-weight="bold" text-anchor="end" textLength="35.00" lengthAdjust="spacingAndGlyphs" stroke="#000" stroke-width="0.12">(0.005 µM)</text>
<text x="222.50" y="268.40" font-size="9.4" font-weight="bold" text-anchor="end" textLength="39.60" lengthAdjust="spacingAndGlyphs">Sotorasib</text>
<text x="222.60" y="278.20" font-size="8.5" font-weight="bold" text-anchor="end" textLength="35.00" lengthAdjust="spacingAndGlyphs" stroke="#000" stroke-width="0.12">(0.005 µM)</text>
<text x="222.50" y="295.80" font-size="9.4" font-weight="bold" text-anchor="end" textLength="42.50" lengthAdjust="spacingAndGlyphs">Fulzerasib</text>
<text x="222.70" y="305.90" font-size="8.5" font-weight="bold" text-anchor="end" textLength="31.00" lengthAdjust="spacingAndGlyphs" stroke="#000" stroke-width="0.12">(2.50 µM)</text>
<text x="222.50" y="319.90" font-size="9.4" font-weight="bold" text-anchor="end" textLength="39.60" lengthAdjust="spacingAndGlyphs">Sotorasib</text>
<text x="222.50" y="329.50" font-size="8.5" font-weight="bold" text-anchor="end" textLength="30.60" lengthAdjust="spacingAndGlyphs" stroke="#000" stroke-width="0.12">(5.00 µM)</text>
<text x="224.00" y="351.10" font-size="9.4" font-weight="bold" text-anchor="end" textLength="42.50" lengthAdjust="spacingAndGlyphs">Fulzerasib</text>
<text x="223.90" y="360.90" font-size="8.5" font-weight="bold" text-anchor="end" textLength="31.50" lengthAdjust="spacingAndGlyphs" stroke="#000" stroke-width="0.12">(2.50 µM)</text>
<text x="222.50" y="378.40" font-size="9.4" font-weight="bold" text-anchor="end" textLength="39.60" lengthAdjust="spacingAndGlyphs">Sotorasib</text>
<text x="222.30" y="388.30" font-size="8.5" font-weight="bold" text-anchor="end" textLength="31.80" lengthAdjust="spacingAndGlyphs" stroke="#000" stroke-width="0.12">(5.00 µM)</text>
<text x="242.30" y="249.10" font-size="6.5" text-anchor="middle" textLength="10.50" lengthAdjust="spacingAndGlyphs" fill="#111">1.00</text>
<text x="265.50" y="249.10" font-size="6.5" text-anchor="middle" textLength="10.50" lengthAdjust="spacingAndGlyphs" fill="#111">1.08</text>
<text x="290.00" y="249.10" font-size="6.5" text-anchor="middle" textLength="10.50" lengthAdjust="spacingAndGlyphs" fill="#111">1.22</text>
<text x="312.00" y="249.10" font-size="6.5" text-anchor="middle" textLength="10.50" lengthAdjust="spacingAndGlyphs" fill="#111">1.61</text>
<text x="345.60" y="249.10" font-size="6.5" text-anchor="middle" textLength="10.50" lengthAdjust="spacingAndGlyphs" fill="#111">1.00</text>
<text x="372.40" y="249.10" font-size="6.5" text-anchor="middle" textLength="10.50" lengthAdjust="spacingAndGlyphs" fill="#111">0.78</text>
<text x="394.40" y="249.10" font-size="6.5" text-anchor="middle" textLength="10.50" lengthAdjust="spacingAndGlyphs" fill="#111">0.58</text>
<text x="419.00" y="249.10" font-size="6.5" text-anchor="middle" textLength="10.50" lengthAdjust="spacingAndGlyphs" fill="#111">0.66</text>
<text x="449.90" y="248.50" font-size="6.5" text-anchor="middle" textLength="10.50" lengthAdjust="spacingAndGlyphs" fill="#111">1.00</text>
<text x="473.90" y="248.50" font-size="6.5" text-anchor="middle" textLength="10.50" lengthAdjust="spacingAndGlyphs" fill="#111">0.90</text>
<text x="496.10" y="248.50" font-size="6.5" text-anchor="middle" textLength="10.50" lengthAdjust="spacingAndGlyphs" fill="#111">0.94</text>
<text x="520.60" y="248.50" font-size="6.5" text-anchor="middle" textLength="10.50" lengthAdjust="spacingAndGlyphs" fill="#111">1.19</text>
<text x="540.00" y="239.90" font-size="10.4" textLength="28.20" lengthAdjust="spacingAndGlyphs" fill="#111" stroke="#111" stroke-width="0.15">47 KDa</text>
<text x="241.50" y="276.90" font-size="6.5" text-anchor="middle" textLength="10.50" lengthAdjust="spacingAndGlyphs" fill="#111">1.00</text>
<text x="265.50" y="276.90" font-size="6.5" text-anchor="middle" textLength="10.50" lengthAdjust="spacingAndGlyphs" fill="#111">0.96</text>
<text x="288.40" y="276.90" font-size="6.5" text-anchor="middle" textLength="10.50" lengthAdjust="spacingAndGlyphs" fill="#111">1.09</text>
<text x="311.40" y="276.90" font-size="6.5" text-anchor="middle" textLength="10.50" lengthAdjust="spacingAndGlyphs" fill="#111">1.38</text>
<text x="347.20" y="276.90" font-size="6.5" text-anchor="middle" textLength="10.50" lengthAdjust="spacingAndGlyphs" fill="#111">1.00</text>
<text x="372.40" y="276.90" font-size="6.5" text-anchor="middle" textLength="10.50" lengthAdjust="spacingAndGlyphs" fill="#111">0.77</text>
<text x="395.70" y="276.90" font-size="6.5" text-anchor="middle" textLength="10.50" lengthAdjust="spacingAndGlyphs" fill="#111">0.64</text>
<text x="417.80" y="276.90" font-size="6.5" text-anchor="middle" textLength="10.50" lengthAdjust="spacingAndGlyphs" fill="#111">0.87</text>
<text x="451.00" y="277.00" font-size="6.5" text-anchor="middle" textLength="10.50" lengthAdjust="spacingAndGlyphs" fill="#111">1.00</text>
<text x="475.00" y="277.00" font-size="6.5" text-anchor="middle" textLength="10.50" lengthAdjust="spacingAndGlyphs" fill="#111">0.98</text>
<text x="497.30" y="277.00" font-size="6.5" text-anchor="middle" textLength="10.50" lengthAdjust="spacingAndGlyphs" fill="#111">1.08</text>
<text x="519.50" y="277.00" font-size="6.5" text-anchor="middle" textLength="10.50" lengthAdjust="spacingAndGlyphs" fill="#111">0.99</text>
<text x="540.00" y="265.70" font-size="10.4" textLength="28.20" lengthAdjust="spacingAndGlyphs" fill="#111" stroke="#111" stroke-width="0.15">47 KDa</text>
<text x="241.00" y="304.30" font-size="6.5" text-anchor="middle" textLength="10.50" lengthAdjust="spacingAndGlyphs" fill="#111">1.00</text>
<text x="266.80" y="304.30" font-size="6.5" text-anchor="middle" textLength="10.50" lengthAdjust="spacingAndGlyphs" fill="#111">1.31</text>
<text x="288.40" y="304.30" font-size="6.5" text-anchor="middle" textLength="10.50" lengthAdjust="spacingAndGlyphs" fill="#111">1.88</text>
<text x="312.50" y="304.30" font-size="6.5" text-anchor="middle" textLength="10.50" lengthAdjust="spacingAndGlyphs" fill="#111">2.66</text>
<text x="347.50" y="304.30" font-size="6.5" text-anchor="middle" textLength="10.50" lengthAdjust="spacingAndGlyphs" fill="#111">1.00</text>
<text x="372.70" y="304.30" font-size="6.5" text-anchor="middle" textLength="10.50" lengthAdjust="spacingAndGlyphs" fill="#111">1.04</text>
<text x="395.20" y="304.30" font-size="6.5" text-anchor="middle" textLength="10.50" lengthAdjust="spacingAndGlyphs" fill="#111">1.18</text>
<text x="417.80" y="304.30" font-size="6.5" text-anchor="middle" textLength="10.50" lengthAdjust="spacingAndGlyphs" fill="#111">1.32</text>
<text x="451.00" y="304.00" font-size="6.5" text-anchor="middle" textLength="10.50" lengthAdjust="spacingAndGlyphs" fill="#111">1.00</text>
<text x="473.90" y="304.00" font-size="6.5" text-anchor="middle" textLength="10.50" lengthAdjust="spacingAndGlyphs" fill="#111">0.83</text>
<text x="497.70" y="304.00" font-size="6.5" text-anchor="middle" textLength="10.50" lengthAdjust="spacingAndGlyphs" fill="#111">1.03</text>
<text x="522.30" y="304.00" font-size="6.5" text-anchor="middle" textLength="10.50" lengthAdjust="spacingAndGlyphs" fill="#111">1.32</text>
<text x="540.00" y="295.50" font-size="10.4" textLength="28.20" lengthAdjust="spacingAndGlyphs" fill="#111" stroke="#111" stroke-width="0.15">47 KDa</text>
<text x="241.00" y="329.00" font-size="6.5" text-anchor="middle" textLength="10.50" lengthAdjust="spacingAndGlyphs" fill="#111">1.00</text>
<text x="264.30" y="329.00" font-size="6.5" text-anchor="middle" textLength="10.50" lengthAdjust="spacingAndGlyphs" fill="#111">1.13</text>
<text x="287.60" y="329.00" font-size="6.5" text-anchor="middle" textLength="10.50" lengthAdjust="spacingAndGlyphs" fill="#111">2.09</text>
<text x="311.70" y="329.00" font-size="6.5" text-anchor="middle" textLength="10.50" lengthAdjust="spacingAndGlyphs" fill="#111">3.24</text>
<text x="346.40" y="329.00" font-size="6.5" text-anchor="middle" textLength="10.50" lengthAdjust="spacingAndGlyphs" fill="#111">1.00</text>
<text x="371.60" y="329.00" font-size="6.5" text-anchor="middle" textLength="10.50" lengthAdjust="spacingAndGlyphs" fill="#111">1.05</text>
<text x="395.20" y="329.00" font-size="6.5" text-anchor="middle" textLength="10.50" lengthAdjust="spacingAndGlyphs" fill="#111">1.17</text>
<text x="416.90" y="329.00" font-size="6.5" text-anchor="middle" textLength="10.50" lengthAdjust="spacingAndGlyphs" fill="#111">1.27</text>
<text x="451.00" y="329.20" font-size="6.5" text-anchor="middle" textLength="10.50" lengthAdjust="spacingAndGlyphs" fill="#111">1.00</text>
<text x="474.40" y="329.20" font-size="6.5" text-anchor="middle" textLength="10.50" lengthAdjust="spacingAndGlyphs" fill="#111">2.16</text>
<text x="497.70" y="329.20" font-size="6.5" text-anchor="middle" textLength="10.50" lengthAdjust="spacingAndGlyphs" fill="#111">2.71</text>
<text x="521.60" y="329.20" font-size="6.5" text-anchor="middle" textLength="10.50" lengthAdjust="spacingAndGlyphs" fill="#111">3.39</text>
<text x="540.00" y="319.90" font-size="10.4" textLength="28.20" lengthAdjust="spacingAndGlyphs" fill="#111" stroke="#111" stroke-width="0.15">47 KDa</text>
<text x="243.00" y="357.80" font-size="6.5" text-anchor="middle" textLength="10.50" lengthAdjust="spacingAndGlyphs" fill="#111">1.00</text>
<text x="266.40" y="357.80" font-size="6.5" text-anchor="middle" textLength="10.50" lengthAdjust="spacingAndGlyphs" fill="#111">1.71</text>
<text x="292.40" y="357.80" font-size="6.5" text-anchor="middle" textLength="10.50" lengthAdjust="spacingAndGlyphs" fill="#111">3.85</text>
<text x="315.00" y="357.80" font-size="6.5" text-anchor="middle" textLength="10.50" lengthAdjust="spacingAndGlyphs" fill="#111">4.04</text>
<text x="348.40" y="357.30" font-size="6.5" text-anchor="middle" textLength="10.50" lengthAdjust="spacingAndGlyphs" fill="#111">1.00</text>
<text x="372.20" y="357.30" font-size="6.5" text-anchor="middle" textLength="10.50" lengthAdjust="spacingAndGlyphs" fill="#111">1.81</text>
<text x="394.50" y="357.30" font-size="6.5" text-anchor="middle" textLength="10.50" lengthAdjust="spacingAndGlyphs" fill="#111">3.38</text>
<text x="418.10" y="357.30" font-size="6.5" text-anchor="middle" textLength="10.50" lengthAdjust="spacingAndGlyphs" fill="#111">2.98</text>
<text x="452.20" y="357.50" font-size="6.5" text-anchor="middle" textLength="10.50" lengthAdjust="spacingAndGlyphs" fill="#111">1.00</text>
<text x="475.50" y="357.50" font-size="6.5" text-anchor="middle" textLength="10.50" lengthAdjust="spacingAndGlyphs" fill="#111">1.76</text>
<text x="497.70" y="357.50" font-size="6.5" text-anchor="middle" textLength="10.50" lengthAdjust="spacingAndGlyphs" fill="#111">3.25</text>
<text x="522.30" y="357.50" font-size="6.5" text-anchor="middle" textLength="10.50" lengthAdjust="spacingAndGlyphs" fill="#111">4.99</text>
<text x="540.00" y="349.80" font-size="10.4" textLength="28.20" lengthAdjust="spacingAndGlyphs" fill="#111" stroke="#111" stroke-width="0.15">47 KDa</text>
<text x="241.90" y="387.50" font-size="6.5" text-anchor="middle" textLength="10.50" lengthAdjust="spacingAndGlyphs" fill="#111">1.00</text>
<text x="266.00" y="387.50" font-size="6.5" text-anchor="middle" textLength="10.50" lengthAdjust="spacingAndGlyphs" fill="#111">0.77</text>
<text x="290.00" y="387.50" font-size="6.5" text-anchor="middle" textLength="10.50" lengthAdjust="spacingAndGlyphs" fill="#111">1.72</text>
<text x="312.50" y="387.50" font-size="6.5" text-anchor="middle" textLength="10.50" lengthAdjust="spacingAndGlyphs" fill="#111">2.24</text>
<text x="345.90" y="387.50" font-size="6.5" text-anchor="middle" textLength="10.50" lengthAdjust="spacingAndGlyphs" fill="#111">1.00</text>
<text x="369.00" y="387.50" font-size="6.5" text-anchor="middle" textLength="10.50" lengthAdjust="spacingAndGlyphs" fill="#111">1.81</text>
<text x="391.80" y="387.50" font-size="6.5" text-anchor="middle" textLength="10.50" lengthAdjust="spacingAndGlyphs" fill="#111">3.38</text>
<text x="415.50" y="387.50" font-size="6.5" text-anchor="middle" textLength="10.50" lengthAdjust="spacingAndGlyphs" fill="#111">2.98</text>
<text x="452.90" y="387.90" font-size="6.5" text-anchor="middle" textLength="10.50" lengthAdjust="spacingAndGlyphs" fill="#111">1.00</text>
<text x="475.50" y="387.90" font-size="6.5" text-anchor="middle" textLength="10.50" lengthAdjust="spacingAndGlyphs" fill="#111">4.54</text>
<text x="497.70" y="387.90" font-size="6.5" text-anchor="middle" textLength="10.50" lengthAdjust="spacingAndGlyphs" fill="#111">9.45</text>
<text x="521.60" y="387.90" font-size="6.5" text-anchor="middle" textLength="13.10" lengthAdjust="spacingAndGlyphs" fill="#111">11.46</text>
<text x="540.00" y="380.50" font-size="10.4" textLength="28.20" lengthAdjust="spacingAndGlyphs" fill="#111" stroke="#111" stroke-width="0.15">47 KDa</text>
</svg>
</body></html>
